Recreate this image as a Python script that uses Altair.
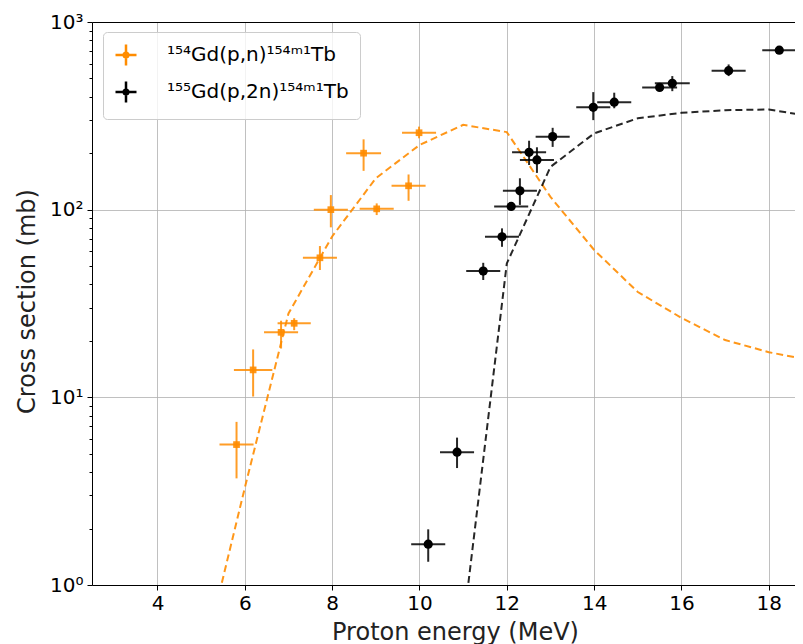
import altair as alt
import pandas as pd

LABEL_PN = "¹⁵⁴Gd(p,n)¹⁵⁴ᵐ¹Tb"
LABEL_P2N = "¹⁵⁵Gd(p,2n)¹⁵⁴ᵐ¹Tb"

# measured 154Gd(p,n)154m1Tb
pn_energy = [5.81, 6.19, 6.83, 7.13, 7.72, 7.97, 8.72, 9.02, 9.75, 9.99]
pn_energy_err = [0.39, 0.44, 0.39, 0.38, 0.39, 0.39, 0.40, 0.39, 0.39, 0.39]
pn_xs = [5.6, 14.0, 22.2, 24.8, 55.4, 100, 200, 101, 134, 257]
pn_xs_low = [3.7, 10.1, 18.2, 22.8, 47.7, 80.5, 161, 93.6, 111.5, 240]
pn_xs_high = [7.4, 18.0, 25.6, 26.4, 64.0, 119.6, 237, 108, 154, 277]

# measured 155Gd(p,2n)154m1Tb
p2n_energy = [10.20, 10.86, 11.46, 11.89, 12.10, 12.30, 12.51, 12.69, 13.05,
              13.98, 14.46, 15.50, 15.79, 17.08, 18.24]
p2n_energy_err = [0.39, 0.39, 0.39, 0.39, 0.39, 0.39, 0.39, 0.39, 0.39,
                  0.39, 0.39, 0.40, 0.40, 0.39, 0.39]
p2n_xs = [1.65, 5.1, 47.1, 71.7, 104, 126, 202, 184, 245, 351, 374, 448, 471, 550, 708]
p2n_xs_low = [1.33, 4.2, 42.2, 63.4, 100, 106, 173, 157, 216, 300, 347, 430, 428, 515, 690]
p2n_xs_high = [1.98, 6.1, 52.1, 79.5, 108, 147, 233, 215, 273, 423, 420, 466, 515, 594, 726]

# model curves
model_pn_energy = [5, 6, 7, 8, 9, 10, 11, 12, 13, 14, 15, 16, 17, 18, 19]
model_pn_xs = [0.36, 3.3, 28, 72, 147, 221, 283, 259, 117, 61, 36.4, 26.5, 20.2, 17.4, 15.7]
model_p2n_energy = [11, 12, 13, 14, 15, 16, 17, 18, 19]
model_p2n_xs = [0.6, 51.7, 169, 255, 307, 328, 339, 342, 313]

x_ticks = [4, 6, 8, 10, 12, 14, 16, 18]
y_ticks = [1, 10, 100, 1000]
y_minor = [2, 3, 4, 5, 6, 7, 8, 9, 20, 30, 40, 50, 60, 70, 80, 90,
           200, 300, 400, 500, 600, 700, 800, 900]


def exp_frame(label, e, de, s, lo, hi):
    return pd.DataFrame({
        "series": label, "E": e, "sig": s,
        "xlo": [a - b for a, b in zip(e, de)],
        "xhi": [a + b for a, b in zip(e, de)],
        "ylo": lo, "yhi": hi,
    })


pn = exp_frame(LABEL_PN, pn_energy, pn_energy_err, pn_xs, pn_xs_low, pn_xs_high)
p2n = exp_frame(LABEL_P2N, p2n_energy, p2n_energy_err, p2n_xs, p2n_xs_low, p2n_xs_high)
mod_pn = pd.DataFrame({"E": model_pn_energy, "sig": model_pn_xs})
mod_p2n = pd.DataFrame({"E": model_p2n_energy, "sig": model_p2n_xs})

FONT = "DejaVu Sans"
ORANGE = "#ff8c00"
xscale = alt.Scale(domain=[2.5, 18.6], nice=False, zero=False)
yscale = alt.Scale(type="log", domain=[1, 1000], nice=False)
cscale = alt.Scale(domain=[LABEL_PN, LABEL_P2N], range=[ORANGE, "black"])

main_x_axis = alt.Axis(values=x_ticks, title="Proton energy (MeV)", grid=True,
                       gridColor="#b0b0b0", gridWidth=0.8, tickSize=5, tickColor="black",
                       domainColor="black", labelFontSize=20, titleFontSize=24,
                       labelColor="black", titleColor="#222222", labelPadding=3,
                       titleFont=FONT, labelFont=FONT,
                       titleFontWeight="normal", titleX=363, titleY=54,
                       titleBaseline="alphabetic", titleAlign="center")
main_y_axis = alt.Axis(values=y_ticks, title="Cross section (mb)", grid=True,
                       gridColor="#b0b0b0", gridWidth=0.8, tickSize=5, tickColor="black",
                       domainColor="black", labelFontSize=20, titleFontSize=24,
                       labelColor="black", titleColor="#222222", labelPadding=4,
                       titleFont=FONT, labelFont=FONT,
                       titleFontWeight="normal", titleX=-65, titleY=279,
                       titleBaseline="middle", titleAlign="center",
                       labelExpr="datum.value == 1 ? '10⁰' : datum.value == 10 ? '10¹' : datum.value == 100 ? '10²' : '10³'")

def X(field):
    return alt.X(field, type="quantitative", scale=xscale, axis=None)

def Y(field):
    return alt.Y(field, type="quantitative", scale=yscale, axis=None)

lines_pn = alt.Chart(mod_pn).mark_line(color=ORANGE, strokeDash=[7, 4], strokeWidth=2,
                                        clip=True, opacity=0.9).encode(
    x=alt.X("E:Q", scale=xscale, axis=main_x_axis),
    y=alt.Y("sig:Q", scale=yscale, axis=main_y_axis),
)
lines_p2n = alt.Chart(mod_p2n).mark_line(color="black", strokeDash=[7, 4], strokeWidth=2,
                                          clip=True, opacity=0.85).encode(x=X("E"), y=Y("sig"))

def bars(df, color, op):
    h = alt.Chart(df).mark_rule(color=color, strokeWidth=2, opacity=op, clip=True).encode(
        x=X("xlo"), x2="xhi", y=Y("sig"))
    v = alt.Chart(df).mark_rule(color=color, strokeWidth=2, opacity=op, clip=True).encode(
        x=X("E"), y=Y("ylo"), y2="yhi")
    return h, v

h_pn, v_pn = bars(pn, ORANGE, 0.85)
h_p2n, v_p2n = bars(p2n, "black", 0.85)

pts_pn = alt.Chart(pn).mark_square(color=ORANGE, size=45, opacity=0.9).encode(x=X("E"), y=Y("sig"))
pts_p2n = alt.Chart(p2n).mark_circle(color="black", size=85, opacity=1).encode(x=X("E"), y=Y("sig"))

legend_path = ("M-1,0L1,0M0,-1L0,1M0.22,0A0.22,0.22,0,1,1,-0.22,0"
               "A0.22,0.22,0,1,1,0.22,0")
legend_layer = alt.Chart(pn).transform_filter("datum.E < 0").mark_point(
    filled=False, opacity=1, strokeWidth=2.5).encode(
    x=alt.X("E:Q", scale=xscale, axis=alt.Axis(orient="top", labels=False, ticks=False,
                                                grid=False, domainColor="black", title=None)),
    y=alt.Y("sig:Q", scale=yscale, axis=alt.Axis(orient="left", values=y_minor, labels=False,
                                                  grid=False, domain=False, tickSize=3,
                                                  tickColor="black", title=None)),
    color=alt.Color("series:N", scale=cscale, legend=alt.Legend(
        title=None, orient="none", legendX=11, legendY=10, symbolType=legend_path,
        symbolSize=441, symbolStrokeWidth=2.5, labelFontSize=20, labelColor="black",
        labelFont=FONT, labelOffset=29, rowPadding=5, padding=11,
        strokeColor="#cccccc", fillColor="rgba(255,255,255,0.8)", cornerRadius=4,
        labelLimit=400)),
)

chart = alt.layer(
    lines_pn, lines_p2n, h_pn, v_pn, h_p2n, v_p2n, pts_pn, pts_p2n, legend_layer
).resolve_axis(x="independent", y="independent").properties(
    width=703, height=563,
    autosize=alt.AutoSizeParams(type="none"),
    padding={"left": 84, "top": 14, "right": 0, "bottom": 66},
).configure_view(stroke=None).configure_axis(
    labelFont=FONT, titleFont=FONT
).configure(background="white")

chart.save("out.html", embed_options={"renderer": "svg", "actions": False})
